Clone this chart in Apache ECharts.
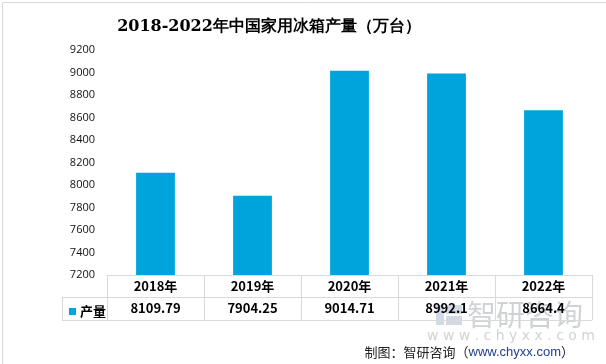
<!DOCTYPE html>
<html>
<head>
<meta charset="utf-8">
<script src="https://cdn.jsdelivr.net/npm/echarts@6/dist/echarts.min.js"></script>
<style>
html,body{margin:0;padding:0;background:#fff;}
#c{width:606px;height:364px;}
</style>
</head>
<body>
<div id="c"></div>
<script>
var categories = ['2018年', '2019年', '2020年', '2021年', '2022年'];
var seriesName = '产量';
var values = [8109.79, 7904.25, 9014.71, 8992.1, 8664.4];
var valueLabels = ['8109.79', '7904.25', '9014.71', '8992.1', '8664.4'];
var yTicks = [7200, 7400, 7600, 7800, 8000, 8200, 8400, 8600, 8800, 9000, 9200];

var BLUE = '#00A4DC';
var LINE = '#D9D9D9';
var CJK = '"Noto Sans CJK SC", "Noto Sans", sans-serif';

var chart = echarts.init(document.getElementById('c'), null, {renderer: 'canvas'});

var option = {
  backgroundColor: '#fff',
  animation: false,
  title: {
    text: '2018-2022年中国家用冰箱产量（万台）',
    left: 264,
    textAlign: 'center',
    top: 14,
    textStyle: {fontFamily: '"DejaVu Serif", serif', fontSize: 16, fontWeight: 'bold', color: '#000'}
  },
  legend: {
    data: [seriesName],
    left: 64,
    top: 300,
    icon: 'rect',
    itemWidth: 7,
    itemHeight: 7,
    itemGap: 4,
    textStyle: {fontFamily: CJK, fontSize: 13, fontWeight: 'bold', color: '#000', padding: [0, 0, 0, -1]}
  },
  grid: {left: 107, right: 14, top: 50, bottom: 89, containLabel: false},
  xAxis: [
    {
      type: 'category', data: categories, position: 'bottom', gridIndex: 0,
      axisLine: {show: true, lineStyle: {color: LINE, width: 1}},
      axisTick: {show: true, length: 45, lineStyle: {color: LINE}},
      axisLabel: {margin: 5, fontFamily: CJK, fontSize: 13, fontWeight: 'bold', color: '#000'}
    },
    {
      type: 'category', data: valueLabels, position: 'bottom', offset: 22, gridIndex: 0,
      axisLine: {show: true, lineStyle: {color: LINE, width: 1}},
      axisTick: {show: false},
      axisLabel: {margin: 5, fontFamily: CJK, fontSize: 13, fontWeight: 'bold', color: '#000'}
    },
    {
      type: 'category', data: categories, position: 'bottom', offset: 45, gridIndex: 0,
      axisLine: {show: true, lineStyle: {color: LINE, width: 1}},
      axisTick: {show: false},
      axisLabel: {show: false}
    }
  ],
  yAxis: {
    type: 'value', min: yTicks[0], max: yTicks[yTicks.length - 1], interval: 200,
    axisLine: {show: false}, axisTick: {show: false}, splitLine: {show: false},
    axisLabel: {margin: 12, fontFamily: '"Open Sans", sans-serif', fontSize: 11, color: '#111',
      formatter: function (v) { return String(v); }}
  },
  series: [{
    name: seriesName,
    type: 'bar',
    data: values,
    barWidth: '40%',
    itemStyle: {color: BLUE}
  }]
};
chart.setOption(option);

var yBase = chart.convertToPixel({yAxisIndex: 0}, yTicks[0]);
var xLeft = 107;
var row1 = yBase + 22, row2 = yBase + 45;
chart.setOption({
  graphic: [
    {type: 'rect', left: 0, top: 0, shape: {x: 0.5, y: 0.5, width: 605, height: 363}, style: {fill: null, stroke: LINE, lineWidth: 1}, silent: true},
    {type: 'line', shape: {x1: 62, y1: Math.round(row1) + 0.5, x2: xLeft, y2: Math.round(row1) + 0.5}, style: {stroke: LINE, lineWidth: 1}},
    {type: 'line', shape: {x1: 62, y1: Math.round(row2) + 0.5, x2: xLeft, y2: Math.round(row2) + 0.5}, style: {stroke: LINE, lineWidth: 1}},
    {type: 'line', shape: {x1: 62.5, y1: Math.round(row1), x2: 62.5, y2: Math.round(row2) + 1}, style: {stroke: LINE, lineWidth: 1}},
    {type: 'group', z: 100, children: [
      {type: 'rect', shape: {x: 436, y: 305, width: 8, height: 20}, style: {fill: 'rgba(120,150,180,0.35)'}},
      {type: 'rect', shape: {x: 446, y: 305, width: 16, height: 9}, style: {fill: 'rgba(120,150,180,0.35)'}},
      {type: 'rect', shape: {x: 446, y: 316, width: 16, height: 9}, style: {fill: 'rgba(120,150,180,0.35)'}},
      {type: 'text', style: {x: 467, y: 315, text: '智研咨询', fontFamily: CJK, fontSize: 29, fill: 'rgba(140,150,160,0.42)', textVerticalAlign: 'middle'}},
      {type: 'text', style: {x: 511, y: 336, text: 'w w w . c h y x x . c o m', fontFamily: '"DejaVu Sans", sans-serif', fontSize: 14, fill: 'rgba(140,150,160,0.42)', textAlign: 'center', textVerticalAlign: 'middle'}}
    ]},
    {type: 'text', z: 101, style: {
      x: 574, y: 352, textAlign: 'right', textVerticalAlign: 'middle',
      text: '{a|制图：智研咨询（}{b|www.chyxx.com}{a|）}',
      rich: {
        a: {fontFamily: CJK, fontSize: 13, fill: '#222'},
        b: {fontFamily: '"Liberation Sans", sans-serif', fontSize: 13, fill: '#1F3E8C'}
      }
    }}
  ]
});
</script>
</body>
</html>
